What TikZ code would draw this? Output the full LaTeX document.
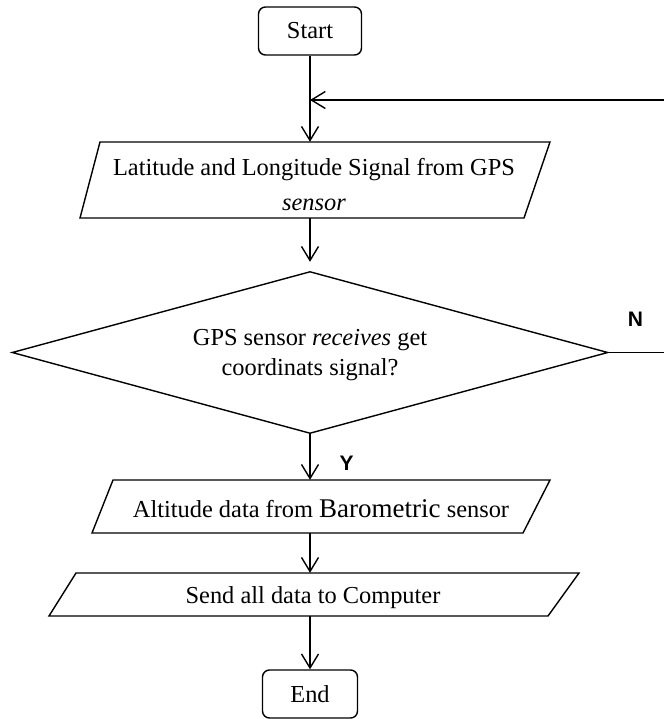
\documentclass[tikz,border=0pt]{standalone}
\usepackage{fontspec}
\setmainfont{Liberation Serif}
\newfontfamily\labelfont{Liberation Sans}
\usetikzlibrary{arrows.meta}
\begin{document}
\begin{tikzpicture}[x=1pt,y=-1pt,
  line/.style={line width=1.4pt, draw=black, line join=miter},
  arr/.style={line width=1.4pt, draw=black, -{Straight Barb[length=14pt,width=17pt,line width=1.4pt]}},
  term/.style={draw=black, line width=1.4pt, rounded corners=7pt, minimum width=103pt, minimum height=48pt, inner sep=0pt, font=\fontsize{24.4}{29}\selectfont},
  frame/.style={inner sep=0pt, draw=none},
  txt/.style={inner sep=0pt, align=center, font=\fontsize{24.4}{35}\selectfont},
  lab/.style={inner sep=0pt, font=\labelfont\bfseries\fontsize{21}{24}\selectfont}]
\useasboundingbox (0,0) rectangle (663,719);

% terminals
\node[term] (start) at (310,31) {Start};
\node[term, minimum width=95pt] (end) at (310,694) {End};

% process 1
\node[frame, minimum width=430pt, minimum height=76pt] (p1) at (310,180) {};
\draw[line] (100,142) -- (550,142) -- (524,218) -- (80,218) -- cycle;
\node[txt] (p1t) at (314,185) {Latitude and Longitude Signal from GPS\\\textit{sensor}};

% decision
\node[frame, minimum width=595pt, minimum height=161pt] (dec) at (310,352.5) {};
\draw[line] (dec.north) -- (dec.east) -- (dec.south) -- (dec.west) -- cycle;
\node[txt, font=\fontsize{24.4}{30}\selectfont] (dect) at (310,355) {GPS sensor \textit{receives} get\\coordinats signal?};

% process 2
\node[frame, minimum width=430pt, minimum height=53pt] (p2) at (310,506.5) {};
\draw[line] (113,480) -- (550,480) -- (523,533) -- (92,533) -- cycle;
\node[txt] (p2t) at (321,509) {Altitude data from {\fontsize{27}{35}\selectfont Barometric} sensor};

% process 3
\node[frame, minimum width=470pt, minimum height=43pt] (p3) at (310,594.5) {};
\draw[line] (76,573) -- (579,573) -- (548,616) -- (49,616) -- cycle;
\node[txt] (p3t) at (313,598) {Send all data to Computer};

% labels
\node[lab] (N) at (635.5,319) {N};
\node[lab] (Y) at (346.5,463.5) {Y};

% connectors
\coordinate (join) at (310,100);
\draw[arr] (start.south) -- (p1.north);
\draw[arr, shorten >=10pt] (p1.south) -- (dec.north);
\draw[arr] (dec.east) -- ++(62,0) |- (join);
\draw[arr] (dec.south) -- (p2.north);
\draw[arr] (p2.south) -- (p3.north);
\draw[arr] (p3.south) -- (end.north);
\end{tikzpicture}
\end{document}
